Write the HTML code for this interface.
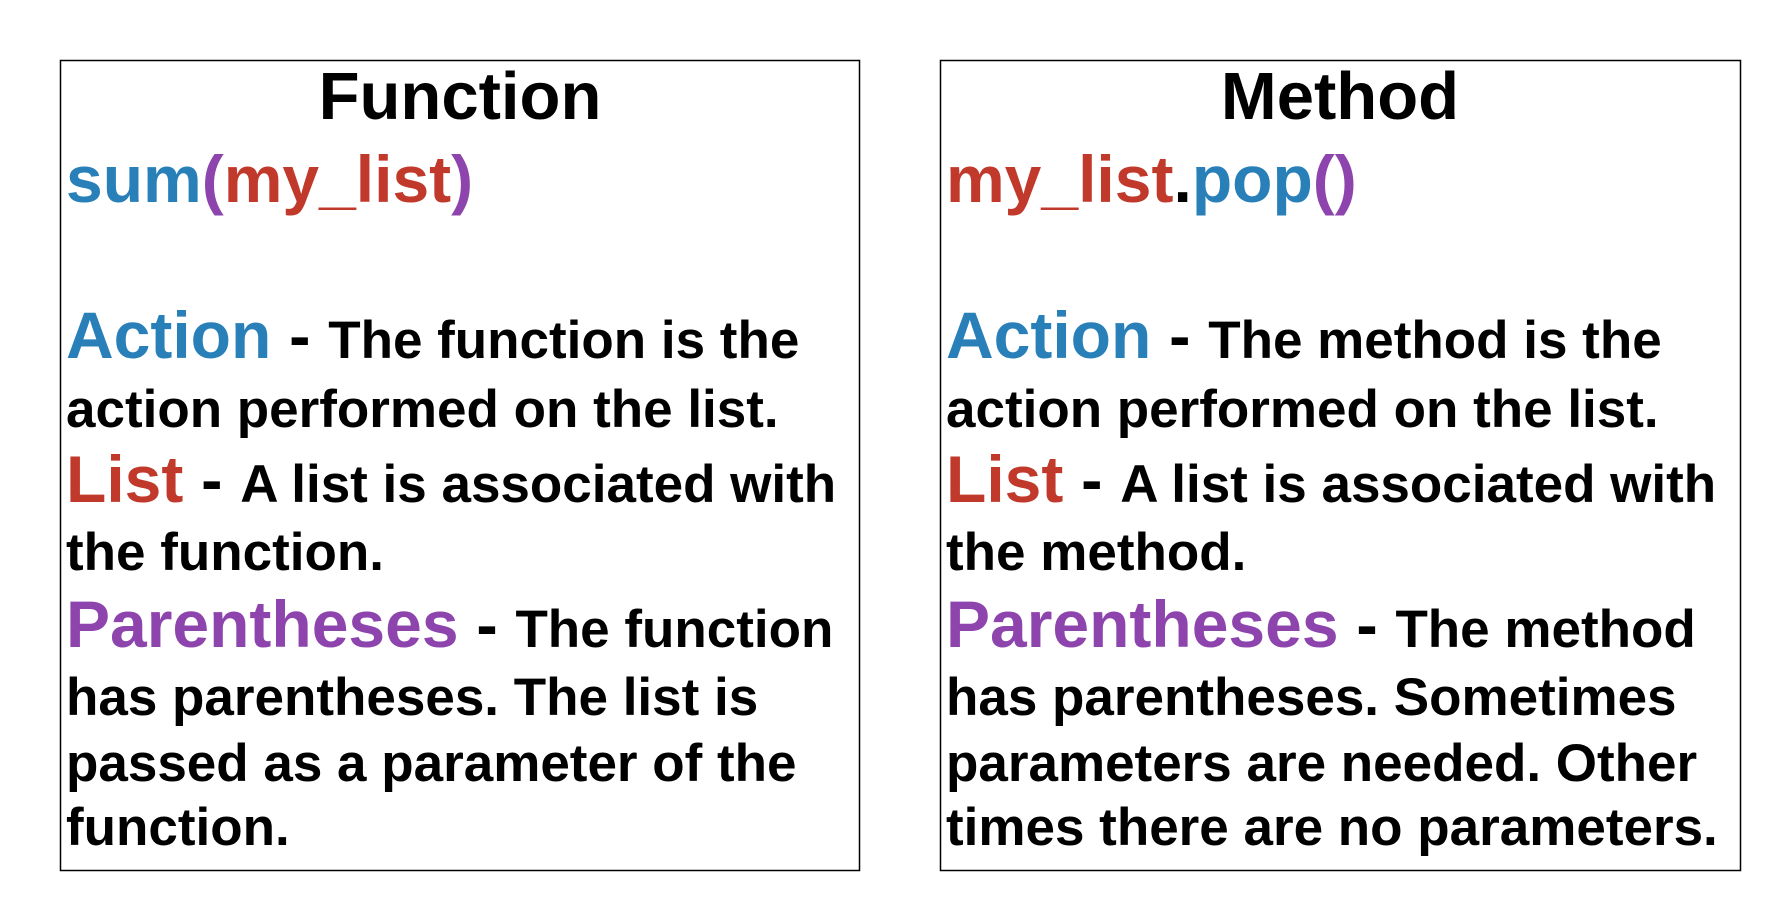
<!DOCTYPE html>
<html><head><meta charset="utf-8"><style>
html,body{margin:0;padding:0;background:#fff;}
svg{display:block;font-family:"Liberation Sans",Arial,sans-serif;font-weight:bold;}
.b{fill:#2980b9}.r{fill:#c0392b}.p{fill:#8e44ad}
.big{font-size:66px}.d{font-size:64px}.t{font-size:53px}
</style></head><body>
<svg width="1780" height="910" viewBox="0 0 1780 910" xmlns="http://www.w3.org/2000/svg">
<rect x="60.5" y="60.5" width="799" height="810" fill="none" stroke="#000" stroke-width="1.5"/>
<rect x="940.5" y="60.5" width="800" height="810" fill="none" stroke="#000" stroke-width="1.5"/>

<text x="460" y="119" font-size="67" text-anchor="middle">Function</text>
<text x="66" y="202" font-size="66"><tspan class="b">sum</tspan><tspan class="p">(</tspan><tspan class="r">my_list</tspan><tspan class="p">)</tspan></text>
<text x="66" y="358" class="t"><tspan class="b big">Action</tspan><tspan class="d"> - </tspan>The function is the</text>
<text x="66" y="427" class="t">action performed on the list.</text>
<text x="66" y="502" class="t"><tspan class="r big">List</tspan><tspan class="d"> - </tspan>A list is associated with</text>
<text x="66" y="570" class="t">the function.</text>
<text x="66" y="647" class="t"><tspan class="p big">Parentheses</tspan><tspan class="d"> - </tspan>The function</text>
<text x="66" y="715" class="t">has parentheses. The list is</text>
<text x="66" y="781" class="t">passed as a parameter of the</text>
<text x="66" y="845" class="t">function.</text>

<text x="1340" y="119" font-size="67" text-anchor="middle">Method</text>
<text x="946" y="202" font-size="66"><tspan class="r">my_list</tspan><tspan>.</tspan><tspan class="b">pop</tspan><tspan class="p">()</tspan></text>
<text x="946" y="358" class="t"><tspan class="b big">Action</tspan><tspan class="d"> - </tspan>The method is the</text>
<text x="946" y="427" class="t">action performed on the list.</text>
<text x="946" y="502" class="t"><tspan class="r big">List</tspan><tspan class="d"> - </tspan>A list is associated with</text>
<text x="946" y="570" class="t">the method.</text>
<text x="946" y="647" class="t"><tspan class="p big">Parentheses</tspan><tspan class="d"> - </tspan>The method</text>
<text x="946" y="715" class="t">has parentheses. Sometimes</text>
<text x="946" y="781" class="t">parameters are needed. Other</text>
<text x="946" y="845" class="t">times there are no parameters.</text>
</svg>
</body></html>
